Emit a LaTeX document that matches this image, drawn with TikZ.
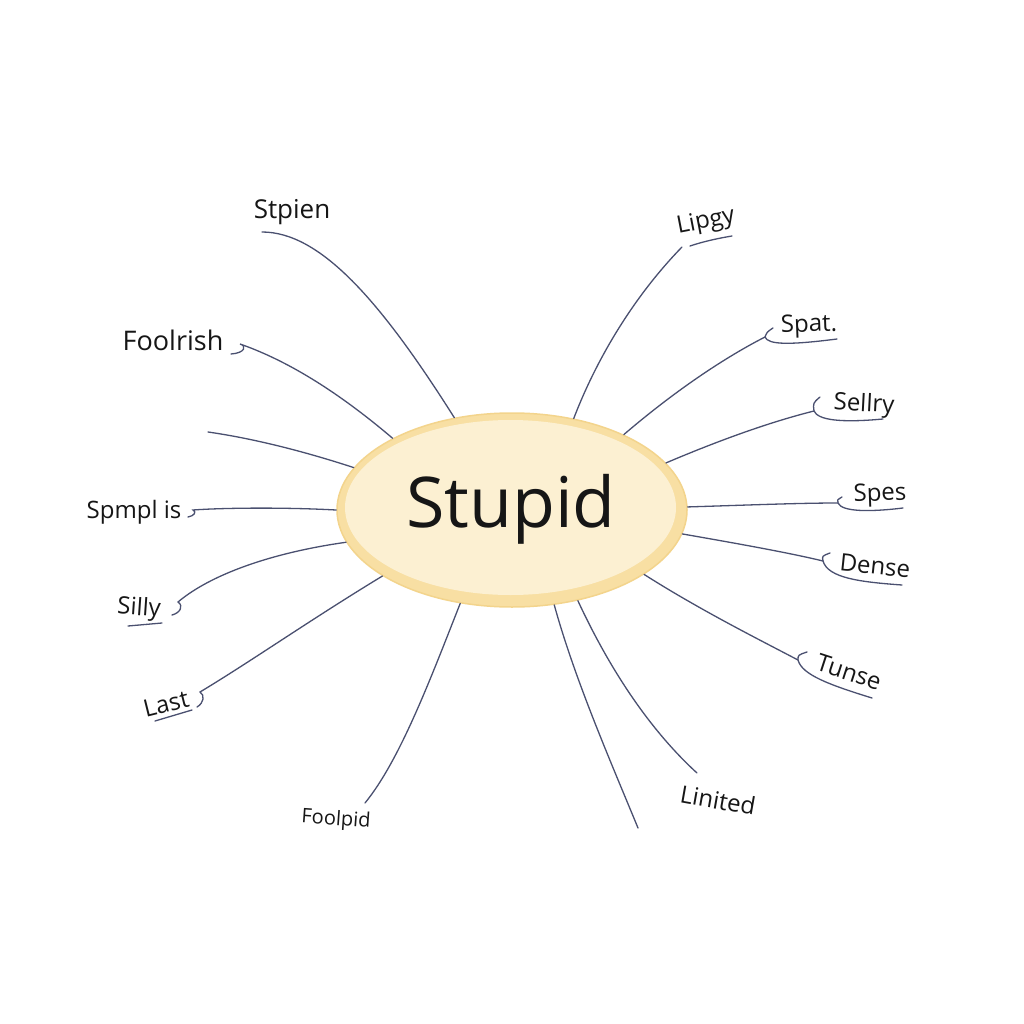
\documentclass[tikz,border=0pt]{standalone}
\usepackage{fontspec}
\setmainfont{Open Sans}
\usetikzlibrary{shapes.geometric}
\definecolor{linec}{HTML}{4A5070}
\definecolor{textc}{HTML}{161616}
\definecolor{ringc}{HTML}{F8DFA3}
\definecolor{ringd}{HTML}{F3D48C}
\definecolor{innerc}{HTML}{FCF0D2}
\begin{document}
\begin{tikzpicture}[x=1pt,y=-1pt,
  conn/.style={draw=linec, line width=1.3pt, line cap=round},
  lbl/.style={font=\fontsize{24}{28}\selectfont, text=textc, inner sep=0pt},
  biglbl/.style={font=\fontsize{27}{32}\selectfont, text=textc, inner sep=0pt},
  smalllbl/.style={font=\fontsize{20}{24}\selectfont, text=textc, inner sep=0pt},
  center/.style={ellipse, fill=ringc, draw=ringd, line width=1.5pt, minimum width=350pt, minimum height=194pt, inner sep=0pt}]
\useasboundingbox[fill=white] (0,0) rectangle (1024,1024);

% central node
\node[center] (stupid) at (512,510) {};
\fill[innerc] (510.5,507.5) ellipse [x radius=165.5pt, y radius=87.5pt];
\node[text=textc, inner sep=0pt, font=\fontsize{70}{84}\selectfont] (title) at (511,509) {Stupid};

% labels
\node[lbl, font=\fontsize{26}{30}\selectfont] (stpien) at (292,212) {Stpien};
\node[biglbl] (foolrish) at (173,340) {Foolrish};
\node[lbl] (spmpl) at (134,512) {Spmpl is};
\node[lbl, rotate=-4] (silly) at (139,609) {Silly};
\node[lbl, rotate=14] (last) at (166,704) {Last};
\node[smalllbl, rotate=-4] (foolpid) at (336,820) {Foolpid};
\node[lbl, rotate=11] (lipgy) at (706,222) {Lipgy};
\node[lbl, rotate=2] (spat) at (809,326) {Spat.};
\node[lbl, rotate=-3] (sellry) at (864,405) {Sellry};
\node[lbl, rotate=2] (spes) at (880,495) {Spes};
\node[lbl, rotate=-6] (dense) at (875,566) {Dense};
\node[lbl, rotate=-18] (tunse) at (849,672) {Tunse};
\node[lbl, rotate=-10] (linited) at (718,800) {Linited};

% free ends / hook points
\coordinate (cStpien) at (262,232);
\coordinate (cFool) at (240,344);
\coordinate (cFree1) at (208,432);
\coordinate (cSpmpl) at (193,510);
\coordinate (cSilly) at (178,602);
\coordinate (cLast) at (200,692);
\coordinate (cFoolpid) at (365,803);
\coordinate (cLipgy) at (682,247);
\coordinate (cSpat) at (765,337);
\coordinate (cSellry) at (814,411);
\coordinate (cSpes) at (838,503);
\coordinate (cDense) at (823,561);
\coordinate (cTunse) at (798,660);
\coordinate (cLinited) at (697,773);
\coordinate (cFree2) at (638,828);

% connectors (left)
\draw[conn] (stupid.122) .. controls (380,300) and (320,232) .. (cStpien);
\draw[conn] (stupid.149) .. controls (330,385) and (280,358) .. (cFool)
  .. controls (247,346) and (245,353) .. (231,354);
\draw[conn] (stupid.165) .. controls (300,450) and (250,438) .. (cFree1);
\draw[conn] (stupid.180) .. controls (280,507) and (220,508) .. (cSpmpl)
  .. controls (197,512) and (194,516) .. (188,517);
\draw[conn] (stupid.191) .. controls (270,553) and (210,575) .. (cSilly)
  .. controls (184,606) and (180,613) .. (172,615);
\draw[conn] (128,626) -- (162,623);
\draw[conn] (stupid.207) .. controls (310,620) and (250,662) .. (cLast)
  .. controls (205,695) and (204,703) .. (197,707);
\draw[conn] (155,721) -- (192,710);
\draw[conn] (stupid.241) .. controls (430,680) and (400,760) .. (cFoolpid);

% connectors (right)
\draw[conn] (stupid.56) .. controls (600,350) and (640,290) .. (cLipgy);
\draw[conn] (690,246) .. controls (705,241) and (720,238) .. (732,236);
\draw[conn] (stupid.34) .. controls (670,395) and (720,360) .. (cSpat)
  .. controls (768,345) and (790,345) .. (837,339);
\draw[conn] (cSpat) .. controls (767,332) .. (773,328);
\draw[conn] (stupid.17) .. controls (720,440) and (770,422) .. (cSellry)
  .. controls (818,420) and (840,423) .. (883,419);
\draw[conn] (cSellry) .. controls (813,403) .. (820,397);
\draw[conn] (stupid.1) .. controls (750,505) and (800,503) .. (cSpes)
  .. controls (842,512) and (870,512) .. (903,508);
\draw[conn] (cSpes) .. controls (837,500) .. (842,497);
\draw[conn] (stupid.-8) .. controls (740,544) and (790,553) .. (cDense)
  .. controls (828,578) and (860,582) .. (902,585);
\draw[conn] (cDense) .. controls (822,556) .. (830,553);
\draw[conn] (stupid.-26) .. controls (700,610) and (760,640) .. (cTunse)
  .. controls (802,675) and (830,685) .. (872,698);
\draw[conn] (cTunse) .. controls (798,655) .. (807,652);
\draw[conn] (stupid.-54) .. controls (610,670) and (650,730) .. (cLinited);
\draw[conn] (stupid.-66) .. controls (575,680) and (610,760) .. (cFree2);
\end{tikzpicture}
\end{document}
